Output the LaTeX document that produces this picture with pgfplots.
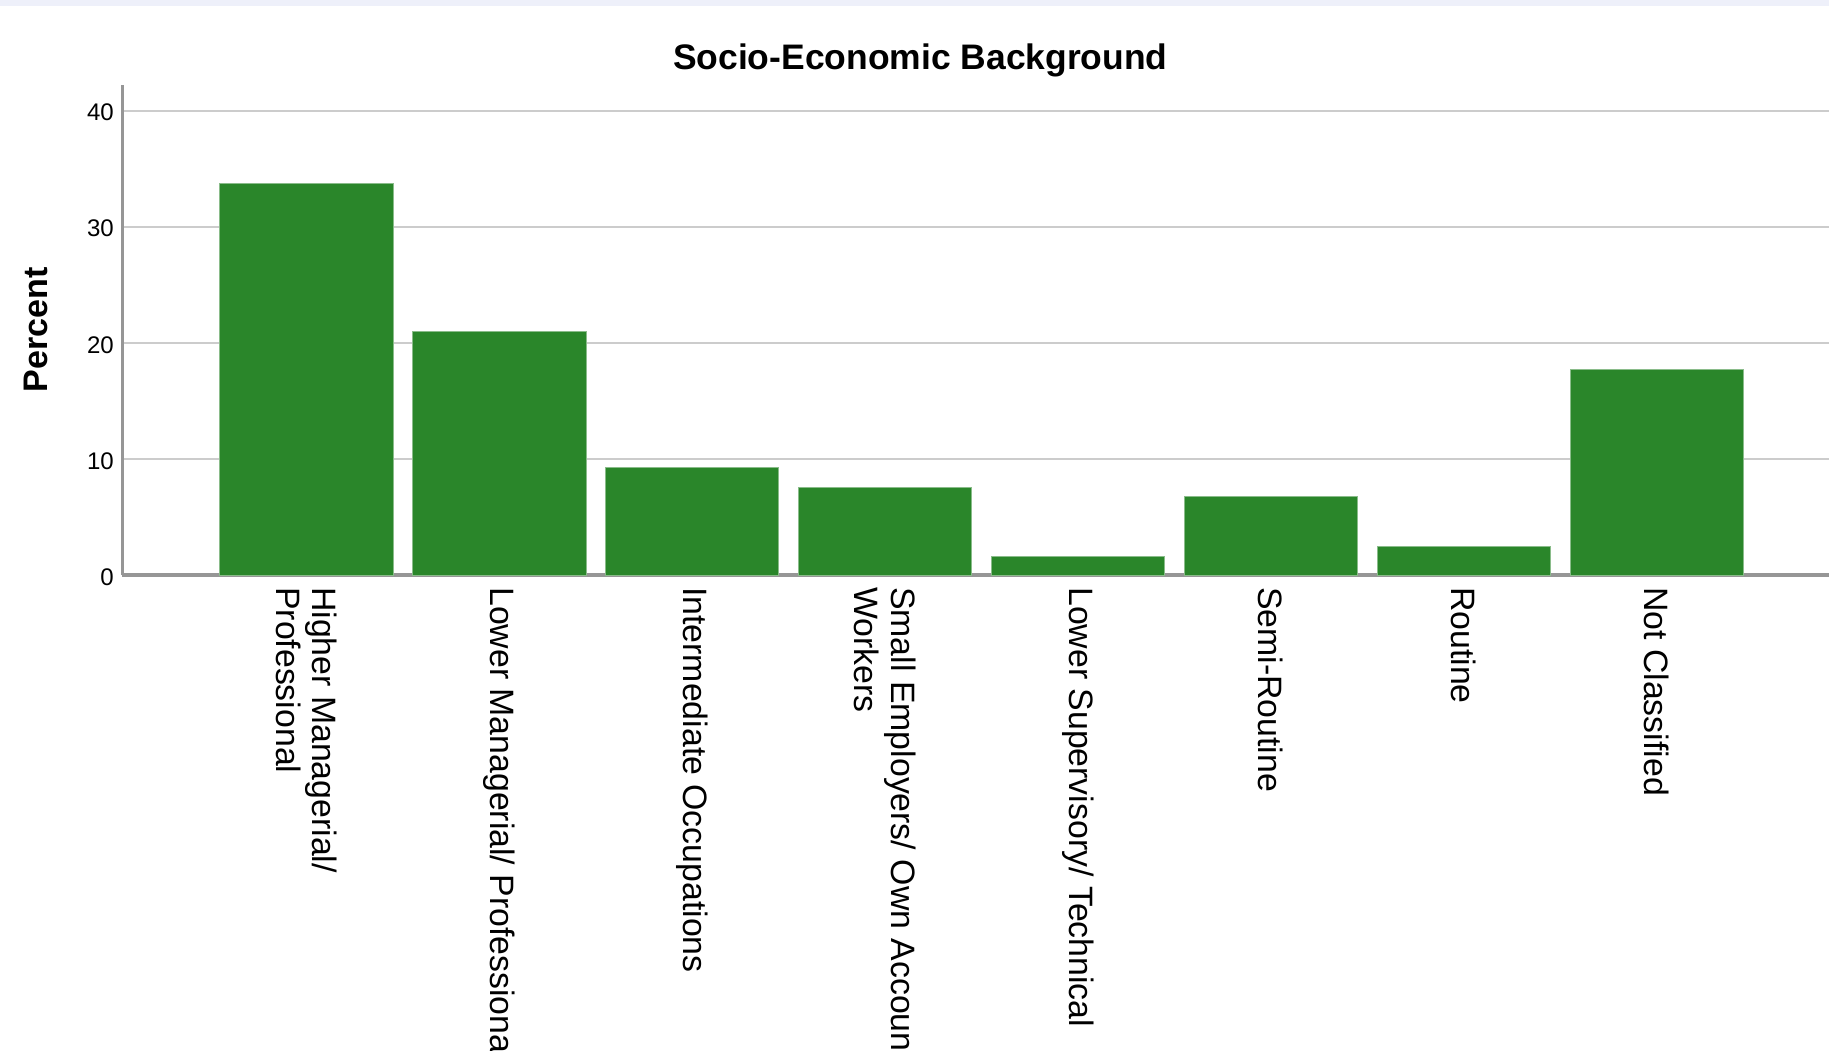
\documentclass[border=0pt]{standalone}
\usepackage{fontspec}
\setmainfont{Liberation Sans}
\usepackage{pgfplots}
\pgfplotsset{compat=1.18}
\definecolor{bargreen}{RGB}{42,134,42}
\definecolor{gridgray}{RGB}{204,204,204}
\definecolor{axisgray}{RGB}{150,150,150}
\definecolor{topstrip}{RGB}{238,240,250}
\begin{document}
\begin{tikzpicture}
\fill[topstrip] (0pt,448pt) rectangle (784pt,450.5pt);
\begin{axis}[
  at={(52.5pt,204pt)}, anchor=south west,
  scale only axis, width=731.5pt, height=210pt,
  xmin=-0.952, xmax=7.892, ymin=0, ymax=42.2,
  ybar, bar width=0.9,
  axis x line*=bottom, axis y line*=left,
  x axis line style={draw=axisgray, line width=1.4pt},
  y axis line style={draw=axisgray, line width=0.9pt},
  xtick={0,...,7},
  xticklabels={{Higher Managerial/\\Professional},{Lower Managerial/ Professional},{Intermediate Occupations},{Small Employers/ Own Account\\Workers},{Lower Supervisory/ Technical},{Semi-Routine},{Routine},{Not Classified}},
  ytick={0,10,20,30,40},
  ymajorgrids, grid style={draw=gridgray, line width=0.8pt},
  major tick length=0pt,
  /pgf/number format/assume math mode=true,
  x tick label style={rotate=-90, anchor=west, align=left, font=\fontsize{14.5}{15.5}\selectfont, inner sep=5pt},
  y tick label style={font=\fontsize{10.3}{12}\selectfont, inner sep=3.5pt, yshift=-0.8pt},
  ylabel={Percent},
  ylabel style={at={(axis description cs:-0.051,0.5)}, anchor=center, font=\bfseries\fontsize{14.6}{17}\selectfont},
]
\addplot[fill=bargreen, draw=bargreen!55!white, line width=0.4pt] coordinates {
(0,33.7) (1,21.0) (2,9.25) (3,7.55) (4,1.6) (5,6.75) (6,2.5) (7,17.7)
};
\end{axis}
\node[font=\bfseries\fontsize{15.2}{18}\selectfont] at (394.5pt,424.5pt) {Socio-Economic Background};
\pgfresetboundingbox
\path[use as bounding box] (0pt,0pt) rectangle (784pt,450.5pt);
\end{tikzpicture}
\end{document}
